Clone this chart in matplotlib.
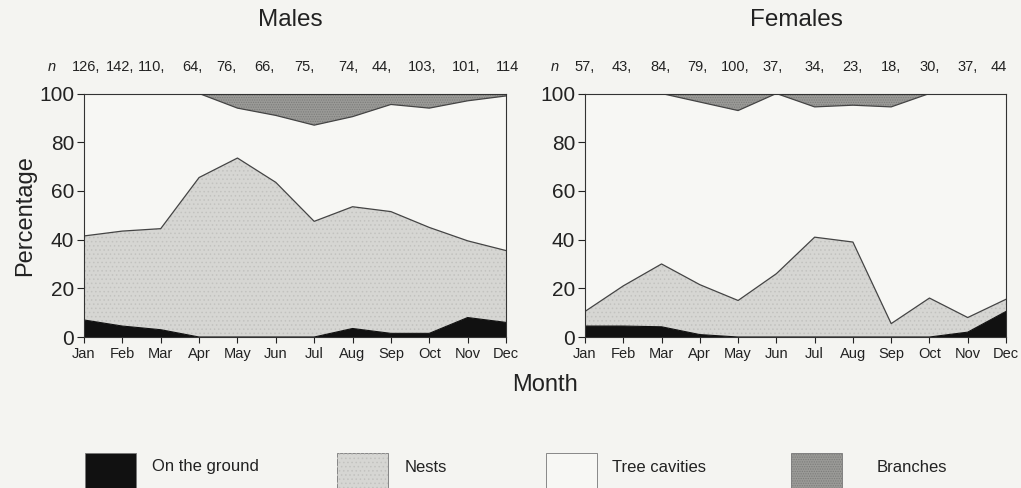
import numpy as np
import matplotlib
matplotlib.use("Agg")
import matplotlib.pyplot as plt
from matplotlib.patches import Rectangle

months = ["Jan", "Feb", "Mar", "Apr", "May", "Jun",
          "Jul", "Aug", "Sep", "Oct", "Nov", "Dec"]

# percentage of observations per substrate, by month
males_ground = [7, 4.5, 3, 0, 0, 0, 0, 3.5, 1.5, 1.5, 8, 6]
males_nests = [34.5, 39, 41.5, 65.5, 73.5, 63.5, 47.5, 50, 50, 43.5, 31.5, 29.5]
males_branches = [0, 0, 0, 0, 6, 9, 13, 9.5, 4.5, 6, 3, 1]
males_n = [126, 142, 110, 64, 76, 66, 75, 74, 44, 103, 101, 114]

females_ground = [4.5, 4.5, 4.2, 1, 0, 0, 0, 0, 0, 0, 2, 10.5]
females_nests = [6, 16.5, 25.8, 20.5, 15, 26, 41, 39, 5.5, 16, 6, 5]
females_branches = [0, 0, 0, 3.5, 7, 0, 5.5, 4.8, 5.5, 0, 0, 0]
females_n = [57, 43, 84, 79, 100, 37, 34, 23, 18, 30, 37, 44]

categories = ["On the ground", "Nests", "Tree cavities", "Branches"]
colors = ["#111111", "#d6d6d3", "#f7f7f4", "#9a9a97"]
hatches = [None, "....", None, "......."]
hatch_cols = [None, "#c2c2bf", None, "#7c7c7a"]

BG = "#f4f4f1"
INK = "#222222"
W, H = 1021, 488

plt.rcParams["font.family"] = ["Liberation Sans", "DejaVu Sans"]
plt.rcParams["hatch.linewidth"] = 0.6

fig = plt.figure(figsize=(W / 100, H / 100), dpi=100, facecolor=BG)


def draw_panel(ax, ground, nests, branches):
    x = np.arange(len(months))
    ground = np.array(ground, dtype=float)
    nests = np.array(nests, dtype=float)
    branches = np.array(branches, dtype=float)
    cavities = 100 - ground - nests - branches
    layers = [ground, nests, cavities, branches]
    base = np.zeros_like(x, dtype=float)
    for vals, col, h, hc in zip(layers, colors, hatches, hatch_cols):
        top = base + vals
        ax.fill_between(x, base, top, facecolor=col, edgecolor="none", lw=0)
        if h:
            ax.fill_between(x, base, top, facecolor="none", edgecolor=hc,
                            hatch=h, lw=0)
        base = top
    # boundary lines
    ax.plot(x, ground, color="#111111", lw=0.8)
    ax.plot(x, ground + nests, color="#444444", lw=0.9)
    ax.plot(x, 100 - branches, color="#444444", lw=0.9)

    ax.set_facecolor(BG)
    ax.set_xlim(0, len(months) - 1)
    ax.set_ylim(0, 100)
    ax.set_xticks(x)
    ax.set_xticklabels(months, fontsize=10.5, color=INK)
    ax.set_yticks([0, 20, 40, 60, 80, 100])
    ax.tick_params(axis="y", labelsize=15, colors=INK, length=5, width=0.8, pad=2)
    ax.tick_params(axis="x", length=4, width=0.8, pad=3, colors=INK)
    for s in ax.spines.values():
        s.set_color("#333333")
        s.set_linewidth(0.8)


ax1 = fig.add_axes([84 / W, 0.3094, 422 / W, 0.499])
ax2 = fig.add_axes([585 / W, 0.3094, 421 / W, 0.499])
draw_panel(ax1, males_ground, males_nests, males_branches)
draw_panel(ax2, females_ground, females_nests, females_branches)
ax1.set_ylabel("Percentage", fontsize=17, color=INK, labelpad=2)

fig.text(290 / W, 1 - 20 / H, "Males", ha="center", va="center", fontsize=17.5, color=INK)
fig.text(796 / W, 1 - 20 / H, "Females", ha="center", va="center", fontsize=17.5, color=INK)

# sample sizes above each panel, one label per month
n_rows = [
    (48, [72, 106, 138, 182, 216, 254, 294, 338, 372, 408, 452, 496], males_n),
    (551, [574, 612, 650, 687, 721, 762, 804, 842, 881, 919, 957, 991], females_n),
]
for nx, xs, ns in n_rows:
    fig.text(nx / W, 1 - 67 / H, "n", ha="left", va="center", fontsize=10.5,
             style="italic", color=INK)
    for i, (px, v) in enumerate(zip(xs, ns)):
        label = str(v) if i == len(ns) - 1 else f"{v},"
        fig.text(px / W, 1 - 67 / H, label, ha="left", va="center",
                 fontsize=10.5, color=INK)

fig.text(545 / W, 1 - 385 / H, "Month", ha="center", va="center", fontsize=17, color=INK)

# legend swatches along the bottom
box_x = [85, 337, 546, 791]
text_x = [152, 405, 612, 877]
for bx, tx, lab, col, h, hc in zip(box_x, text_x, categories, colors, hatches, hatch_cols):
    fig.patches.append(Rectangle((bx / W, 0.0), 51 / W, 35 / H,
                                 transform=fig.transFigure, facecolor=col,
                                 edgecolor="#777777", lw=0.6))
    if h:
        fig.patches.append(Rectangle((bx / W, 0.0), 51 / W, 35 / H,
                                     transform=fig.transFigure, facecolor="none",
                                     edgecolor=hc, hatch=h, lw=0))
    fig.text(tx / W, 1 - 467 / H, lab, ha="left", va="center",
             fontsize=12, color=INK)

fig.savefig("out.png", dpi=100, facecolor=BG)
